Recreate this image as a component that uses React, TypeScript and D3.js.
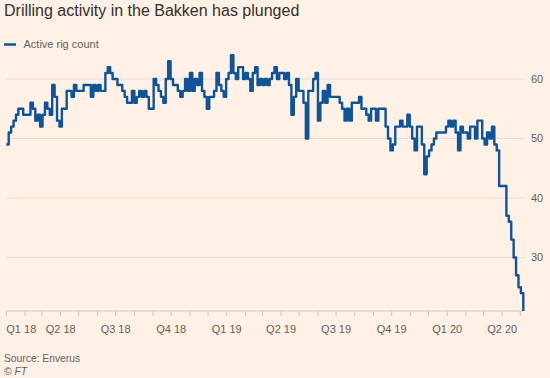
import React from 'react';
import * as d3 from 'd3';

const title = 'Drilling activity in the Bakken has plunged';
const seriesName = 'Active rig count';
const sourceText = 'Source: Enverus';
const creditText = '© FT';

// Active rig count, sampled every 4 days from 1 Jan 2018
const startYear = 2018;
const stepDays = 4;
const rigCount = [
  49, 51, 52, 53, 54, 55, 55, 54, 54, 54, 56, 55, 53, 54, 52, 54, 56, 55, 54, 59,
  57, 53, 52, 55, 55, 58, 58, 57, 59, 58, 58, 58, 59, 59, 59, 57, 59, 58, 59, 58,
  58, 61, 62, 61, 60, 60, 59, 59, 58, 57, 56, 56, 58, 56, 57, 58, 57, 58, 57, 55,
  55, 60, 59, 58, 57, 56, 60, 63, 60, 59, 59, 58, 57, 58, 60, 58, 61, 58, 60, 59,
  61, 58, 57, 55, 57, 57, 58, 61, 59, 58, 57, 60, 61, 64, 61, 60, 62, 62, 60, 61,
  60, 58, 61, 62, 59, 60, 59, 60, 59, 60, 61, 62, 60, 61, 61, 60, 61, 59, 54, 57,
  60, 58, 58, 56, 50, 58, 58, 60, 61, 53, 56, 58, 56, 59, 57, 57, 57, 57, 56, 55,
  53, 55, 53, 56, 56, 56, 57, 55, 55, 54, 53, 55, 55, 53, 55, 55, 55, 52, 50, 48,
  49, 52, 52, 53, 52, 52, 54, 52, 50, 48, 52, 52, 49, 44, 47, 48, 49, 50, 51, 51,
  51, 51, 52, 53, 52, 53, 51, 48, 52, 51, 51, 50, 52, 52, 50, 53, 53, 50, 49, 51,
  50, 52, 49, 48, 42, 42, 42, 37, 36, 33, 30, 27, 25, 24, 21,
];

const yTicks = [30, 40, 50, 60];
const yDomain = [21, 65];

const C = {
  bg: '#fff1e5',
  text: '#33302e',
  muted: '#66605c',
  grid: '#e9ddd1',
  axis: '#d2c6ba',
  line: '#0f5499',
};
const FONT = '"Liberation Sans", Arial, sans-serif';

export default function App() {
  const W = 550;
  const H = 378;
  const start = new Date(startYear, 0, 1);
  const dates = rigCount.map((_, i) => d3.timeDay.offset(start, i * stepDays));
  const x = d3
    .scaleTime()
    .domain([dates[0], dates[dates.length - 1]])
    .range([6.3, 523.3]);
  const y = d3.scaleLinear().domain(yDomain).range([311, 49.25]);

  const lineGen = d3
    .line<number>()
    .x((_, i) => x(dates[i]))
    .y((d) => y(d))
    .curve(d3.curveStepAfter);

  const months = x.ticks(d3.timeMonth.every(1) as any) as Date[];
  const quarters = months.filter((m) => m.getMonth() % 3 === 0);
  const [x0, x1] = x.range();

  return (
    <svg
      width={W}
      height={H}
      style={{ position: 'absolute', left: 0, top: 0, background: C.bg, fontFamily: FONT }}
    >
      <rect x={0} y={0} width={W} height={H} fill={C.bg} />
      <text x={4} y={16} fontSize={16} fill={C.text}>
        {title}
      </text>
      <line x1={4} x2={16} y1={44.5} y2={44.5} stroke={C.line} strokeWidth={2.5} />
      <text x={23.5} y={48} fontSize={11} fill={C.muted}>
        {seriesName}
      </text>

      {yTicks.map((t) => (
        <g key={t}>
          <line x1={x0} x2={525} y1={y(t)} y2={y(t)} stroke={C.grid} strokeWidth={1} />
          <text x={531} y={y(t)} dy="0.35em" fontSize={11} fill={C.muted}>
            {t}
          </text>
        </g>
      ))}

      <line x1={x0} x2={x1} y1={y(yDomain[0])} y2={y(yDomain[0])} stroke={C.axis} strokeWidth={1} />
      {months.map((m) => (
        <line
          key={+m}
          x1={x(m)}
          x2={x(m)}
          y1={y(yDomain[0])}
          y2={y(yDomain[0]) + 5}
          stroke={C.axis}
          strokeWidth={1}
        />
      ))}
      {quarters.map((m, i) => (
        <text
          key={+m}
          x={x(m)}
          y={333}
          fontSize={11}
          fill={C.muted}
          textAnchor={i === 0 ? 'start' : 'middle'}
        >
          {`Q${Math.floor(m.getMonth() / 3) + 1} ${String(m.getFullYear()).slice(2)}`}
        </text>
      ))}

      <path
        d={lineGen(rigCount) || ''}
        fill="none"
        stroke={C.line}
        strokeWidth={2.4}
        strokeLinejoin="round"
      />

      <text x={4} y={362} fontSize={10.3} fill={C.muted}>
        {sourceText}
      </text>
      <text x={4} y={375} fontSize={10.3} fill={C.muted} fontStyle="italic">
        {creditText}
      </text>
    </svg>
  );
}
